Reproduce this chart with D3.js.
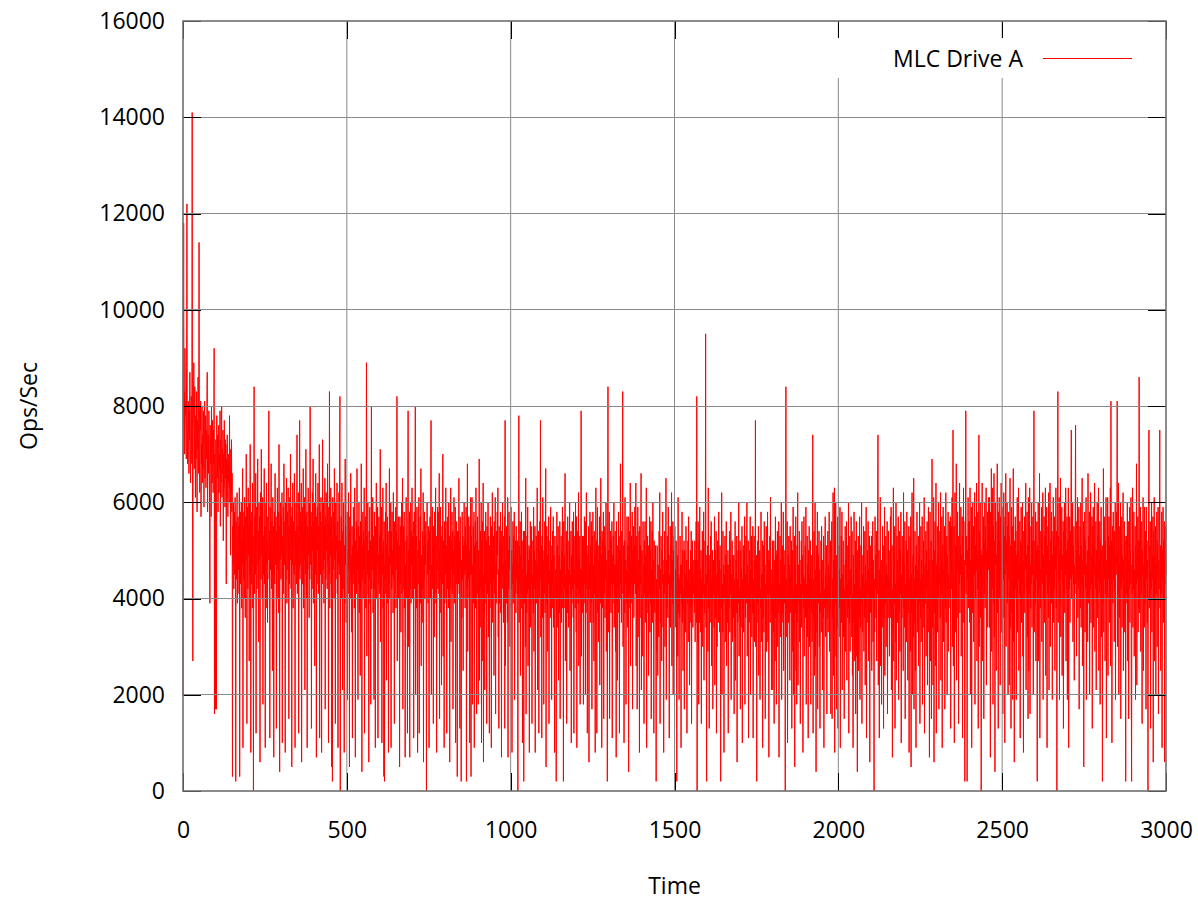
<!DOCTYPE html>
<html>
<head>
<meta charset="utf-8">
<script src="https://cdn.jsdelivr.net/npm/d3@7"></script>
<style>
  body { margin: 0; background: #fff; }
  #chart text { font-family: "Open Sans", sans-serif; fill: #000; }
</style>
</head>
<body>
<div id="chart"></div>
<script>
const seriesName = "MLC Drive A";
const xLabel = "Time";
const yLabel = "Ops/Sec";
const timeStep = 1; // one sample per second
const opsUnit = 100; // values below are in hundreds of ops/sec

// Ops/Sec (x100), one row = 60 s
const opsHundreds = [
  20,85,118,76,83,70,92,78,81,74, 69,88,122,80,68,73,81,77,66,79, 73,87,71,64,76,82,72,68,141,63, 27,75,79,89,70,67,84,72,61,78, 69,83,74,58,77,71,86,66,73,114, 70,62,79,75,81,57,72,68,80,64,
  74,67,79,71,59,76,81,65,72,78, 63,75,69,80,87,58,70,74,66,79, 72,61,39,76,68,73,57,80,69,64, 77,71,62,75,68,92,16,70,66,17, 73,60,17,78,69,65,74,58,71,76, 62,70,67,79,55,73,64,77,80,61,
  71,66,75,52,70,63,77,68,59,73, 65,72,43,69,61,74,66,57,70,64, 68,60,78,63,71,49,67,62,73,58, 66,3,55,47,60,42,52,58,45,61, 50,2,56,44,53,62,39,51,57,46, 55,41,63,3,49,58,43,54,60,38,
  52,47,67,9,55,44,58,40,61,50, 36,57,48,70,53,14,46,59,42,63, 49,55,27,60,45,72,51,8,56,43, 58,47,64,38,53,0,49,84,41,57, 52,45,66,12,50,59,42,56,69,47, 54,31,60,48,57,6,51,62,44,71,
  49,56,40,61,18,53,45,58,67,43, 55,9,50,60,38,64,47,52,35,57, 48,62,79,44,54,11,59,46,53,68, 42,56,50,25,61,45,55,7,49,58, 43,66,51,47,57,13,54,40,63,50, 46,58,37,72,52,4,55,48,60,44,
  57,49,62,10,53,45,59,41,68,51, 47,56,8,60,44,54,65,39,52,58, 46,63,50,15,55,43,61,48,70,53, 42,57,5,59,47,64,38,52,56,45, 66,50,9,54,47,60,43,57,74,41, 55,49,62,12,53,46,77,44,58,51,
  47,64,6,56,43,59,50,67,38,54, 48,61,21,57,45,71,52,40,58,9, 55,46,63,49,53,36,60,44,80,51, 47,58,13,55,42,62,50,69,39,56, 48,60,26,54,45,66,52,7,57,43, 59,50,64,41,55,47,72,11,53,58,
  45,61,49,8,56,43,73,51,46,60, 39,55,48,65,17,57,44,62,50,53, 42,68,47,56,10,59,45,83,38,55, 49,63,43,57,5,52,2,61,46,54, 58,40,67,48,55,14,60,44,53,50, 64,41,56,9,52,47,62,45,71,82,
  0,52,44,57,40,64,48,21,54,42, 60,46,8,51,39,69,47,55,35,53, 43,58,19,50,41,62,46,54,5,57, 40,52,66,44,49,33,55,11,51,43, 59,45,54,38,63,47,7,52,42,56, 41,67,46,50,19,55,43,60,37,53,
  47,24,56,42,68,49,4,51,44,58, 40,54,46,63,12,52,43,57,38,55, 89,28,53,45,60,41,50,6,54,44, 59,39,52,18,47,80,42,56,46,61, 37,53,44,19,58,42,50,9,55,45, 64,40,52,47,59,11,49,43,57,41,
  53,46,71,31,54,42,59,10,50,45, 63,38,52,3,56,2,47,44,58,41, 64,23,51,45,57,39,54,8,49,43, 67,40,52,47,60,9,54,42,58,45, 50,37,62,44,53,14,56,41,51,59, 38,54,46,82,27,52,44,57,40,49,
  51,5,57,43,55,33,48,60,41,53, 65,17,46,55,42,58,38,52,7,47, 44,61,40,53,49,12,55,79,30,50, 45,58,7,52,42,60,39,54,47,63, 40,53,44,56,11,51,58,42,49,80, 20,47,53,38,59,45,8,50,43,57,
  61,12,52,43,57,39,67,26,49,45, 35,54,42,62,6,51,44,58,40,53, 47,56,41,0,48,60,45,52,39,55, 43,9,54,46,57,40,51,77,20,47, 45,59,42,52,14,55,44,32,58,41, 50,63,39,53,8,48,46,59,42,54,
  58,41,66,15,50,44,59,37,53,22, 46,55,43,70,28,52,47,9,56,39, 54,45,63,40,51,12,56,42,57,47, 38,60,44,53,6,49,42,63,31,52, 46,58,41,54,17,50,45,61,39,53, 48,59,10,52,43,56,40,3,54,45,
  54,43,65,41,52,13,57,46,42,2, 48,36,58,44,53,25,51,40,60,45, 52,38,55,46,59,2,51,42,68,29, 53,44,57,40,50,10,55,45,61,3, 53,45,61,18,47,42,55,39,58,9, 51,43,56,38,63,47,16,52,41,57,
  44,18,50,40,69,23,46,34,54,42, 60,10,52,41,56,27,64,6,45,37, 54,21,49,43,58,39,52,14,55,41, 47,60,32,53,44,12,51,38,57,43, 50,9,55,40,62,35,48,44,53,24, 56,41,49,61,16,47,39,54,45,58,
  49,63,32,46,13,55,39,52,43,58, 37,51,7,54,42,60,45,47,35,53, 41,57,13,77,26,48,44,55,39,52, 35,61,7,50,42,58,46,53,30,52, 38,59,42,50,8,47,43,56,39,53, 45,58,19,49,41,52,37,55,44,47,
  41,52,0,47,40,78,35,51,43,56, 24,49,41,58,38,52,10,46,42,54, 2,43,54,39,51,30,65,16,45,37, 53,41,59,26,48,42,51,8,50,39, 56,34,47,43,55,14,45,40,52,37, 59,29,50,42,55,8,48,39,53,44,
  39,63,21,47,42,54,12,50,40,56, 44,77,32,44,51,11,53,36,61,38, 48,18,50,41,56,37,45,67,5,42, 55,39,49,29,53,43,57,14,46,40, 52,36,59,41,48,19,51,38,54,43, 57,34,49,42,8,53,40,46,37,2,
  45,58,34,51,40,55,23,43,49,37, 56,15,46,41,53,35,50,43,59,38, 48,2,56,38,49,42,66,27,45,40, 54,14,50,37,57,41,46,34,52,43, 60,25,45,41,54,10,49,39,56,42, 51,36,58,12,46,43,53,38,60,44,
  33,57,9,49,42,54,39,62,26,48, 41,53,18,46,40,79,28,46,43,53, 37,52,18,53,39,57,43,50,20,56, 37,62,42,49,12,44,51,40,55,6, 47,42,58,35,51,39,56,44,17,53, 40,58,35,47,27,54,41,49,8,45,
  63,40,52,12,45,59,37,51,31,48, 42,57,22,53,39,65,43,49,9,54, 38,52,42,58,15,47,41,55,36,51, 44,60,29,48,41,2,56,84,33,50, 42,58,15,46,40,54,37,52,43,56, 11,49,39,53,43,60,34,47,41,54,
  29,47,7,56,39,51,23,48,42,58, 37,53,12,50,40,68,43,49,35,54, 41,59,83,30,44,51,10,52,37,61, 43,48,18,46,39,57,34,51,42,57, 4,49,41,54,38,64,26,47,43,53, 39,58,17,50,41,55,36,51,43,59,
  49,41,64,26,45,53,17,39,59,32, 48,42,54,8,55,36,51,43,66,21, 43,50,38,28,56,40,47,14,52,41, 56,35,49,44,63,9,47,40,53,37, 51,24,45,41,57,33,50,39,56,15, 46,42,54,35,60,41,48,12,52,39,
  37,44,51,33,2,44,29,51,38,24, 47,40,32,54,42,62,14,46,35,53, 39,27,50,43,58,34,45,8,48,41, 54,30,42,46,65,19,48,38,53,40, 36,59,43,49,11,45,40,55,34,51, 42,62,26,48,39,56,20,50,44,53,
  30,55,40,46,34,52,39,2,42,49, 28,61,37,45,19,44,36,53,41,47, 9,47,39,58,35,50,25,42,38,52, 17,50,37,45,33,55,40,48,12,44, 39,52,31,57,40,46,22,43,38,50, 35,54,14,47,39,52,34,45,41,48,
  45,37,52,31,48,40,56,35,82,0, 48,31,56,40,18,52,35,59,39,46, 33,50,14,44,38,54,30,47,41,58, 23,43,37,52,40,95,34,45,2,49, 43,51,29,63,38,46,13,41,49,35, 53,40,56,26,44,39,50,17,48,41,
  48,34,57,22,42,50,36,54,12,45, 30,52,41,46,35,58,39,48,33,51, 40,2,46,38,62,20,43,33,54,39, 47,8,45,40,53,31,49,37,56,26, 42,47,35,50,12,40,47,38,54,33, 48,41,58,19,45,37,52,31,49,42,
  36,49,16,44,32,56,23,41,48,37, 53,6,44,35,50,39,60,28,42,36, 52,17,50,34,46,40,55,10,44,38, 51,33,48,40,57,18,45,36,53,39, 42,60,28,47,39,52,11,43,35,50, 38,57,20,46,41,53,32,48,37,55,
  11,44,37,53,31,48,40,77,30,42, 49,2,47,39,52,35,55,24,44,40, 50,19,42,38,58,31,45,41,52,9, 45,36,51,33,56,40,47,15,43,38, 55,29,45,41,58,31,50,39,7,48, 41,53,35,61,40,46,21,43,37,52,
  21,43,33,52,14,40,48,27,57,36, 50,18,49,41,54,30,45,37,56,7, 43,39,53,32,48,40,60,19,44,37, 51,35,58,25,42,47,39,50,0,45, 84,32,44,38,56,10,41,49,35,53, 40,47,23,55,37,45,41,52,13,48,
  50,29,59,20,42,34,53,5,46,37, 57,25,43,18,51,35,62,22,40,47, 39,54,31,48,14,43,37,52,34,56, 41,49,8,45,38,57,28,44,40,51, 36,59,18,43,41,53,32,47,11,50, 38,55,30,45,40,52,18,44,37,49,
  31,44,74,12,44,36,54,24,41,60, 28,46,4,42,51,33,58,17,39,49, 39,54,30,46,13,41,37,52,33,55, 40,48,21,44,36,53,9,42,38,50, 57,32,45,39,51,16,43,36,54,33, 47,40,58,29,45,38,52,16,42,49,
  56,15,44,36,62,24,48,33,63,8, 45,39,60,28,49,17,41,34,57,13, 43,51,32,46,38,59,9,44,40,53, 35,58,21,45,39,52,32,47,15,42, 37,55,29,48,40,56,23,43,36,51, 38,60,12,44,35,53,29,46,41,57,
  45,32,54,24,41,9,49,35,58,27, 43,31,52,16,40,56,28,46,4,50, 37,53,25,44,36,57,19,42,34,51, 39,60,14,45,33,49,40,55,29,43, 36,54,22,47,38,59,11,44,35,50, 41,56,27,46,34,53,6,43,37,51,
  37,53,25,45,40,56,31,48,39,0, 44,33,57,42,49,36,54,27,46,41, 59,74,22,42,50,11,46,34,61,26, 41,48,18,45,34,55,38,51,13,43, 36,59,24,45,39,53,30,47,42,56, 16,45,36,54,40,50,28,44,38,57,
  36,59,21,44,51,7,42,33,63,27, 47,39,55,13,43,31,60,23,46,53, 35,48,42,57,19,44,37,54,29,50, 41,58,10,45,36,53,40,49,25,62, 38,47,34,56,15,43,39,52,31,58, 42,50,23,46,37,55,8,44,40,53,
  29,57,5,45,37,62,20,42,49,32, 65,17,44,35,54,25,47,9,51,40, 58,33,46,42,53,26,49,39,60,14, 44,36,55,31,48,41,57,18,45,38, 52,34,61,12,43,47,39,54,28,50, 42,56,22,46,38,59,33,48,7,51,
  58,27,43,52,15,46,69,34,48,22, 41,61,6,50,37,56,26,44,64,12, 47,42,55,33,49,40,60,17,45,43, 54,36,62,23,48,41,57,9,51,44, 59,31,46,43,55,17,50,38,62,35, 47,53,20,49,42,58,29,45,40,56,
  49,38,57,13,47,55,42,61,30,52, 75,26,47,55,10,44,62,33,51,40, 68,23,50,46,58,36,53,14,48,43, 64,37,51,45,59,28,49,42,57,11, 53,40,63,35,48,46,2,56,47,79, 41,53,45,2,50,44,61,38,56,46,
  56,35,63,20,48,41,59,9,52,37, 60,43,55,31,49,45,62,18,51,40, 57,46,64,27,50,42,58,13,47,74, 30,54,44,60,36,50,0,49,43,64, 27,49,46,57,15,52,41,60,38,55, 47,63,22,50,44,58,34,53,46,61,
  46,61,34,53,7,58,44,67,29,50, 42,63,18,55,39,66,32,52,4,60, 47,56,25,49,45,68,37,54,13,58, 43,61,40,52,22,57,46,64,33,51, 48,59,16,55,44,62,36,53,10,57, 45,66,30,52,47,60,39,55,20,58,
  44,53,22,46,65,34,51,13,43,59, 37,55,19,48,67,31,45,6,52,40, 57,42,54,19,49,38,61,33,50,44, 63,25,47,41,56,11,52,39,59,35, 51,43,60,28,48,8,54,41,57,37, 53,46,64,21,49,42,58,32,51,15,
  61,25,49,41,63,16,47,38,55,43, 60,34,52,45,57,20,48,79,33,45, 52,39,58,27,50,44,56,2,51,41, 60,27,50,42,66,11,46,38,54,44, 59,31,52,43,62,19,49,40,57,35, 53,42,63,24,48,45,59,9,51,41,
  55,36,62,21,48,43,64,30,52,45, 58,39,54,19,49,44,61,35,53,42, 57,25,51,46,63,38,54,0,47,53, 83,35,53,44,61,19,50,39,65,32, 52,46,59,24,49,43,56,13,54,41, 60,37,53,45,63,27,50,42,57,19,
  52,46,63,9,48,42,57,35,54,44, 59,75,40,53,45,60,31,51,43,55, 23,47,41,58,76,43,56,28,50,44, 61,36,52,42,59,17,49,45,55,38, 60,34,51,43,65,26,48,41,56,5, 53,45,58,33,52,42,61,19,47,44,
  50,31,66,39,53,44,58,20,46,42, 62,35,49,43,57,13,55,41,59,34, 51,45,64,29,47,42,56,21,50,40, 60,36,53,44,63,25,48,41,56,18, 52,43,59,32,50,45,2,51,39,67, 33,49,44,57,27,52,41,61,11,48,
  48,40,61,24,53,44,57,35,51,42, 63,26,81,43,52,10,46,55,39,58, 44,50,31,54,42,60,19,49,45,58, 47,81,30,50,41,64,20,47,36,55, 43,60,15,51,42,57,34,49,44,62, 25,48,40,56,33,52,45,2,53,41,
  53,39,60,27,45,56,15,48,42,59, 35,50,43,61,22,2,47,41,63,34, 50,42,58,28,46,40,55,19,51,43, 68,22,49,44,57,33,52,38,86,37, 52,44,59,29,48,41,56,14,50,45, 61,25,47,42,59,34,51,39,54,17,
  59,44,52,35,48,0,46,58,75,38, 51,41,56,13,46,42,60,33,49,44, 57,6,54,40,61,27,49,43,55,20, 47,41,58,30,52,45,59,16,48,42, 54,75,38,51,25,47,41,58,9,50, 44,59,35,52,41,56,6,49,43,55,
  45
];

const xTicks = [0, 500, 1000, 1500, 2000, 2500, 3000];
const yTicks = [0, 2000, 4000, 6000, 8000, 10000, 12000, 14000, 16000];

class LineChart {
  constructor(_config, _data) {
    this.config = {
      parentElement: _config.parentElement,
      containerWidth: _config.containerWidth || 1198,
      containerHeight: _config.containerHeight || 900,
      margin: _config.margin || { top: 21, right: 32, bottom: 109, left: 183 },
      tickLength: 18,
      fontSize: 23,
    };
    this.data = _data;
    this.initVis();
  }

  initVis() {
    const vis = this;
    const cfg = vis.config;

    vis.width = cfg.containerWidth - cfg.margin.left - cfg.margin.right;
    vis.height = cfg.containerHeight - cfg.margin.top - cfg.margin.bottom;

    vis.svg = d3
      .select(cfg.parentElement)
      .append("svg")
      .attr("width", cfg.containerWidth)
      .attr("height", cfg.containerHeight);

    vis.chart = vis.svg
      .append("g")
      .attr("transform", `translate(${cfg.margin.left},${cfg.margin.top})`);

    vis.x = d3
      .scaleLinear()
      .domain([xTicks[0], xTicks[xTicks.length - 1]])
      .range([0, vis.width]);
    vis.y = d3
      .scaleLinear()
      .domain([yTicks[0], yTicks[yTicks.length - 1]])
      .range([vis.height, 0]);

    // samples -> points
    vis.points = vis.data.map((v, i) => ({ time: i * timeStep, ops: v * opsUnit }));

    // Series line
    vis.chart
      .append("path")
      .datum(vis.points)
      .attr("fill", "none")
      .attr("stroke", "#ff0000")
      .attr("stroke-width", 1)
      .attr(
        "d",
        d3
          .line()
          .x((d) => vis.x(d.time))
          .y((d) => vis.y(d.ops))
      );

    // Grid in front of the data, like the original
    const grid = vis.chart.append("g").attr("class", "grid");
    grid
      .selectAll(".vgrid")
      .data(xTicks.slice(1, -1))
      .enter()
      .append("line")
      .attr("x1", (d) => vis.x(d))
      .attr("x2", (d) => vis.x(d))
      .attr("y1", 0)
      .attr("y2", vis.height)
      .attr("stroke", "#8a8a8a")
      .attr("stroke-width", 1);
    grid
      .selectAll(".hgrid")
      .data(yTicks.slice(1, -1))
      .enter()
      .append("line")
      .attr("x1", 0)
      .attr("x2", vis.width)
      .attr("y1", (d) => vis.y(d))
      .attr("y2", (d) => vis.y(d))
      .attr("stroke", "#8a8a8a")
      .attr("stroke-width", 1)
      .attr("shape-rendering", "crispEdges");

    // Axes with inward ticks on all four sides
    const t = cfg.tickLength;
    const fmt = d3.format("d");
    const yAxisL = d3.axisLeft(vis.y).tickValues(yTicks).tickSize(-t).tickPadding(t).tickFormat(fmt);
    const yAxisR = d3.axisRight(vis.y).tickValues(yTicks).tickSize(-t).tickFormat("");
    const xAxisB = d3.axisBottom(vis.x).tickValues(xTicks).tickSize(-t).tickPadding(31).tickFormat(fmt);
    const xAxisT = d3.axisTop(vis.x).tickValues(xTicks).tickSize(-t).tickFormat("");

    const axes = [
      vis.chart.append("g").call(yAxisL),
      vis.chart.append("g").attr("transform", `translate(${vis.width},0)`).call(yAxisR),
      vis.chart.append("g").attr("transform", `translate(0,${vis.height})`).call(xAxisB),
      vis.chart.append("g").call(xAxisT),
    ];
    axes.forEach((g) => {
      g.select(".domain").remove();
      g.selectAll(".tick line").attr("stroke", "#000").attr("shape-rendering", "crispEdges");
      g.selectAll(".tick text")
        .attr("font-family", '"Open Sans", sans-serif')
        .attr("font-size", cfg.fontSize)
        .attr("fill", "#000");
    });

    // Plot border
    vis.chart
      .append("rect")
      .attr("x", 0)
      .attr("y", 0)
      .attr("width", vis.width)
      .attr("height", vis.height)
      .attr("fill", "none")
      .attr("stroke", "#6e6e6e")
      .attr("stroke-width", 1.6);

    // Legend (white key box hides the grid behind it)
    const legend = vis.svg.append("g").attr("class", "legend");
    legend
      .append("rect")
      .attr("x", 826)
      .attr("y", 38)
      .attr("width", 322)
      .attr("height", 40)
      .attr("fill", "#fff");
    legend
      .append("text")
      .attr("x", 1023)
      .attr("y", 67)
      .attr("text-anchor", "end")
      .attr("font-size", cfg.fontSize)
      .text(seriesName);
    legend
      .append("line")
      .attr("x1", 1043)
      .attr("x2", 1132)
      .attr("y1", 58.5)
      .attr("y2", 58.5)
      .attr("stroke", "#ff0000")
      .attr("stroke-width", 1);

    // Axis titles
    vis.svg
      .append("text")
      .attr("x", cfg.margin.left + vis.width / 2)
      .attr("y", 894)
      .attr("text-anchor", "middle")
      .attr("font-size", cfg.fontSize)
      .text(xLabel);

    vis.svg
      .append("text")
      .attr("transform", `translate(37,${cfg.margin.top + vis.height / 2}) rotate(-90)`)
      .attr("text-anchor", "middle")
      .attr("font-size", cfg.fontSize)
      .text(yLabel);
  }
}

new LineChart({ parentElement: "#chart" }, opsHundreds);
</script>
</body>
</html>
